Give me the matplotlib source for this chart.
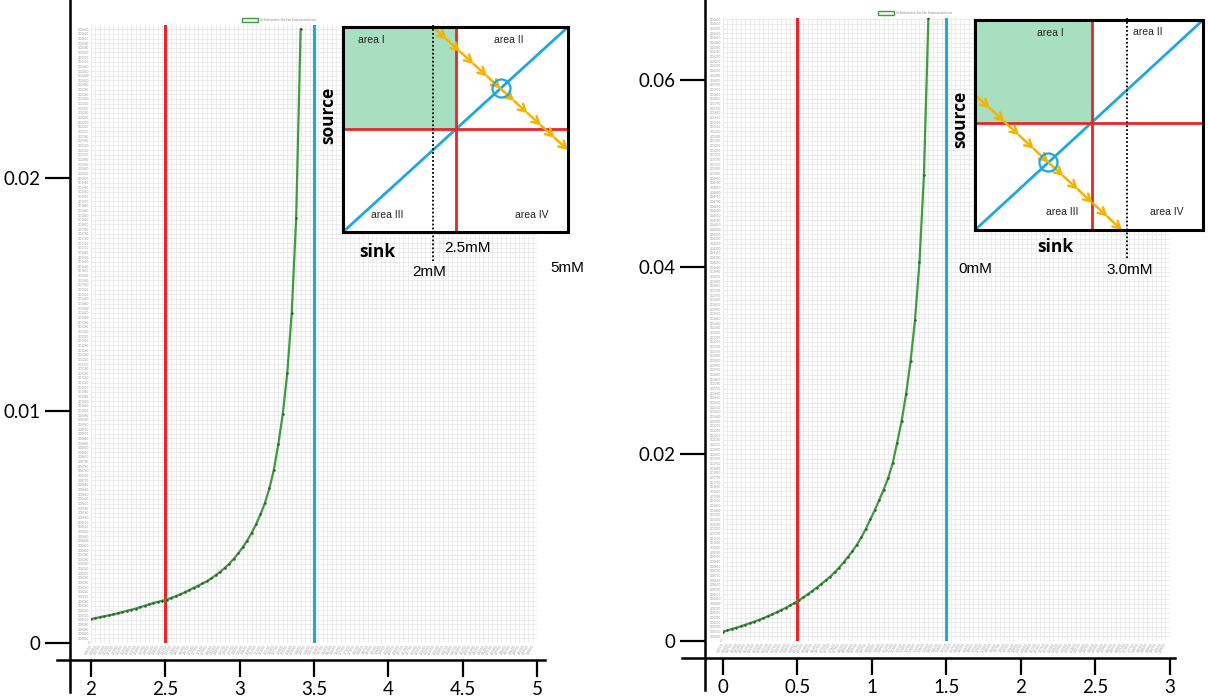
import numpy as np
import matplotlib
matplotlib.use('Agg')
import matplotlib.pyplot as plt
from matplotlib.patches import Patch, Rectangle

W, H = 1208, 700
plt.rcParams['font.family'] = ['Lato', 'DejaVu Sans']

# ---------------- data ----------------
left_x = [2.00, 2.03, 2.06, 2.09, 2.12, 2.15, 2.18, 2.21, 2.24, 2.27, 2.30, 2.33,
          2.36, 2.39, 2.42, 2.45, 2.48, 2.51, 2.54, 2.57, 2.60, 2.63, 2.66, 2.69,
          2.72, 2.75, 2.78, 2.81, 2.84, 2.87, 2.90, 2.93, 2.96, 2.99, 3.02, 3.05,
          3.08, 3.11, 3.14, 3.17, 3.20, 3.23, 3.26, 3.29, 3.32, 3.35, 3.38, 3.41]
left_y = [0.00103, 0.00107, 0.00111, 0.00115, 0.00119, 0.00123, 0.00128, 0.00133,
          0.00138, 0.00143, 0.00148, 0.00154, 0.00160, 0.00166, 0.00172, 0.00177,
          0.00182, 0.00187, 0.00194, 0.00201, 0.00209, 0.00218, 0.00227, 0.00237,
          0.00246, 0.00256, 0.00266, 0.00278, 0.00292, 0.00307, 0.00323, 0.00341,
          0.00362, 0.00385, 0.00411, 0.00440, 0.00473, 0.00510, 0.00553, 0.00603,
          0.00665, 0.00745, 0.00855, 0.00985, 0.01160, 0.01418, 0.01827, 0.02640]

right_x = [0.00, 0.03, 0.06, 0.09, 0.12, 0.15, 0.18, 0.21, 0.24, 0.27, 0.30, 0.33,
           0.36, 0.39, 0.42, 0.45, 0.48, 0.51, 0.54, 0.57, 0.60, 0.63, 0.66, 0.69,
           0.72, 0.75, 0.78, 0.81, 0.84, 0.87, 0.90, 0.93, 0.96, 0.99, 1.02, 1.05,
           1.08, 1.11, 1.14, 1.17, 1.20, 1.23, 1.26, 1.29, 1.32, 1.35, 1.38]
right_y = [0.00100, 0.00114, 0.00128, 0.00143, 0.00158, 0.00174, 0.00190, 0.00207,
           0.00225, 0.00244, 0.00264, 0.00285, 0.00307, 0.00330, 0.00354, 0.00380,
           0.00407, 0.00436, 0.00467, 0.00500, 0.00535, 0.00571, 0.00609, 0.00648,
           0.00688, 0.00735, 0.00785, 0.00840, 0.00900, 0.00962, 0.01030, 0.01110,
           0.01200, 0.01300, 0.01400, 0.01510, 0.01620, 0.01745, 0.01900, 0.02120,
           0.02350, 0.02640, 0.02990, 0.03430, 0.04050, 0.04980, 0.06660]

left_red, left_blue = 2.5, 3.5
right_red, right_blue = 0.5, 1.5

left_xticks = [2, 2.5, 3, 3.5, 4, 4.5, 5]
left_xlabels = ['2', '2.5', '3', '3.5', '4', '4.5', '5']
left_yticks = [0, 0.01, 0.02]
left_ylabels = ['0', '0.01', '0.02']
right_xticks = [0, 0.5, 1, 1.5, 2, 2.5, 3]
right_xlabels = ['0', '0.5', '1', '1.5', '2', '2.5', '3']
right_yticks = [0, 0.02, 0.04, 0.06]
right_ylabels = ['0', '0.02', '0.04', '0.06']

legend_label = 'Schrittweite für fan Saturazunahme'

# inset schematic values (mM)
left_inset = dict(size=5.0, thr=2.5, dotted=2.0, total=7.0,
                  marks=['2mM', '2.5mM', '5mM'])
right_inset = dict(size=4.5, thr=2.3, dotted=3.0, total=2.9,
                   marks=['0mM', '3.0mM'])

RED = '#e8262b'
BLUE = '#1ea7e1'
GREEN = '#3f9b3f'
YELLOW = '#f4b300'
FILL = '#a8dfc0'

fig = plt.figure(figsize=(W / 100, H / 100), dpi=100)


def rect(x0, y0, x1, y1):
    return [x0 / W, 1 - y1 / H, (x1 - x0) / W, (y1 - y0) / H]


def outer_axes(box, xa, xa_px, xb, xb_px, ya, ya_px, yb, yb_px, sx_px, sy_px,
               xticks, xlabels, yticks, ylabels):
    x0, y0, x1, y1 = box
    ax = fig.add_axes(rect(x0, y0, x1, y1))
    ux = (xb - xa) / (xb_px - xa_px)
    uy = (yb - ya) / (ya_px - yb_px)
    ax.set_xlim(xa + (x0 - xa_px) * ux, xa + (x1 - xa_px) * ux)
    ax.set_ylim(ya - (y1 - ya_px) * uy, ya + (ya_px - y0) * uy)
    ax.spines['left'].set_position(('data', xa + (sx_px - xa_px) * ux))
    ax.spines['bottom'].set_position(('data', ya - (sy_px - ya_px) * uy))
    for s in ('top', 'right'):
        ax.spines[s].set_visible(False)
    for s in ('left', 'bottom'):
        ax.spines[s].set_linewidth(1.8)
    ax.patch.set_alpha(0)
    ax.set_xticks(xticks)
    ax.set_xticklabels(xlabels, fontsize=13.5)
    ax.set_yticks(yticks)
    ax.set_yticklabels(ylabels, fontsize=13.5)
    ax.tick_params(axis='x', direction='out', length=12, width=1.6, pad=3)
    ax.tick_params(axis='y', direction='out', length=18, width=1.6, pad=3)
    return ax


def inner_axes(box, xlim, ylim, xs, ys, red, blue, ystep, xstep, legend_xy):
    x0, y0, x1, y1 = box
    ax = fig.add_axes(rect(x0, y0, x1, y1))
    ax.set_xlim(*xlim)
    ax.set_ylim(*ylim)
    for s in ax.spines.values():
        s.set_visible(False)
    yt = np.arange(0, ylim[1] + 1e-9, ystep)
    xt = np.arange(xlim[0], xlim[1] + 1e-9, xstep)
    xl = np.arange(xlim[0], xlim[1] + 1e-9, xstep / 2)
    ax.set_yticks(yt)
    ax.set_yticklabels(['%.5f' % v if v > 0 else '0' for v in yt],
                       fontsize=2.2, color='#999999')
    ax.set_xticks(xt)
    ax.set_xticklabels([])
    ax.set_xticks(xl, minor=True)
    ax.set_xticklabels(['%.4f' % v for v in xl], minor=True, fontsize=2.4,
                       color='#999999', rotation=60, ha='right')
    ax.tick_params(length=0, pad=1, which='both')
    ax.grid(True, which='major', color='#e9e9e9', lw=0.6)
    ax.set_axisbelow(True)
    ax.axvline(red, color=RED, lw=2.2)
    ax.axvline(blue, color=BLUE, lw=2.2)
    ax.plot(xs, ys, color=GREEN, lw=1.6, marker='.', ms=1.6,
            mfc='#2a5a2a', mec='#2a5a2a')
    h = Patch(facecolor='#f2faf2', edgecolor=GREEN, lw=1.0)
    ax.legend([h], [legend_label], loc='center left',
              bbox_to_anchor=(legend_xy[0] / W, 1 - legend_xy[1] / H),
              bbox_transform=fig.transFigure, frameon=False, fontsize=2.6,
              handlelength=4.5, handleheight=1.2, borderpad=0, handletextpad=0.6,
              labelcolor='#888888')
    return ax


def inset(box, p, texts):
    x0, y0, x1, y1 = box
    ax = fig.add_axes(rect(x0, y0, x1, y1))
    S, T = p['size'], p['thr']
    ax.set_xlim(0, S)
    ax.set_ylim(0, S)
    ax.set_xticks([])
    ax.set_yticks([])
    for s in ax.spines.values():
        s.set_linewidth(2.2)
        s.set_color('black')
        s.set_zorder(10)
    ax.add_patch(Rectangle((0, T), T, S - T, facecolor=FILL, edgecolor='none', zorder=1))
    ax.plot([0, S], [0, S], color=BLUE, lw=2.0, zorder=3)
    ax.axvline(T, color=RED, lw=2.0, zorder=4)
    ax.axhline(T, color=RED, lw=2.0, zorder=4)
    d = p['dotted']
    ax.plot([d, d], [S * 1.01, -0.14 * S], color='black', lw=1.3, ls=(0, (1, 1.2)),
            clip_on=False, zorder=5)
    tot = p['total']
    xs0 = max(0.0, tot - S)
    xs1 = min(S, tot)
    n = 10
    pts = [(xs0 + (xs1 - xs0) * k / n, tot - (xs0 + (xs1 - xs0) * k / n)) for k in range(n + 1)]
    for a, b in zip(pts[:-1], pts[1:]):
        ax.annotate('', xy=b, xytext=a,
                    arrowprops=dict(arrowstyle='->,head_length=0.5,head_width=0.28',
                                    color=YELLOW, lw=1.8, shrinkA=0, shrinkB=0),
                    zorder=6)
    c = tot / 2
    ax.plot([c], [c], 'o', ms=13, mfc='none', mec=BLUE, mew=1.6, zorder=7)
    for (tx, ty, s, kw) in texts:
        ax.text(tx, ty, s, transform=ax.transData, clip_on=False, **kw)
    return ax


area_kw = dict(fontsize=7.5, color='#222222', ha='center', va='center',
               family=['Liberation Sans', 'DejaVu Sans'])
bold_kw = dict(fontsize=12.5, fontweight='bold', color='black', ha='center', va='center',
               family=['Open Sans', 'DejaVu Sans'])
mark_kw = dict(fontsize=11, color='black', ha='center', va='center',
               family=['Liberation Sans', 'DejaVu Sans'])

# ---------------- left panel ----------------
outer_axes((57, 0, 545, 692), 2, 91, 5, 537, 0, 643, 0.02, 178, 70, 660,
           left_xticks, left_xlabels, left_yticks, left_ylabels)
inner_axes((91, 25, 537, 643), (2, 5), (0, (643 - 25) / 23250.0),
           left_x, left_y, left_red, left_blue, 0.0002, 0.03, (240, 20))
inset((343, 27, 568, 232), left_inset, [
    (0.62, 4.68, 'area I', area_kw),
    (3.69, 4.68, 'area II', area_kw),
    (0.98, 0.41, 'area III', area_kw),
    (4.20, 0.41, 'area IV', area_kw),
    (0.76, -0.49, 'sink', bold_kw),
    (-0.33, 2.85, 'source', dict(bold_kw, rotation=90)),
    (2.76, -0.39, left_inset['marks'][1], mark_kw),
    (1.91, -0.98, left_inset['marks'][0], mark_kw),
    (4.98, -0.88, left_inset['marks'][2], mark_kw),
])

# ---------------- right panel ----------------
outer_axes((682, 0, 1175, 690), 0, 723, 3, 1169.5, 0, 641, 0.06, 80, 705, 658,
           right_xticks, right_xlabels, right_yticks, right_ylabels)
inner_axes((723, 18, 1169.5, 641), (0, 3), (0, (641 - 18) / 9350.0),
           right_x, right_y, right_red, right_blue, 0.0005, 0.03, (876, 13))
inset((975, 20, 1203, 230), right_inset, [
    (1.48, 4.22, 'area I', area_kw),
    (3.41, 4.24, 'area II', area_kw),
    (1.72, 0.39, 'area III', area_kw),
    (3.79, 0.39, 'area IV', area_kw),
    (1.58, -0.36, 'sink', bold_kw),
    (-0.30, 2.36, 'source', dict(bold_kw, rotation=90)),
    (0.0, -0.84, right_inset['marks'][0], mark_kw),
    (3.06, -0.86, right_inset['marks'][1], mark_kw),
])

fig.savefig('out.png', dpi=100)
